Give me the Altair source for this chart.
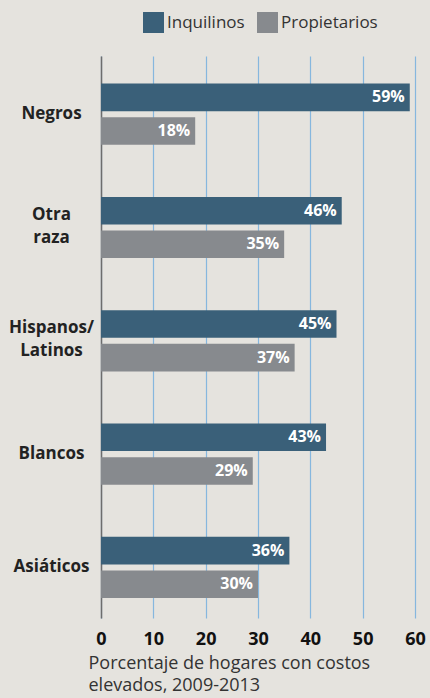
import altair as alt
import pandas as pd

categories = ["Negros", "Otra raza", "Hispanos/Latinos", "Blancos", "Asiáticos"]
series = ["Inquilinos", "Propietarios"]
inquilinos = [59, 46, 45, 43, 36]
propietarios = [18, 35, 37, 29, 30]
x_ticks = [0, 10, 20, 30, 40, 50, 60]

rows = []
for c, a, b in zip(categories, inquilinos, propietarios):
    rows.append({"grupo": c, "serie": series[0], "valor": a})
    rows.append({"grupo": c, "serie": series[1], "valor": b})
df = pd.DataFrame(rows)

FONT = "Open Sans"
BLUE = "#3a6079"
GRAY = "#878a8e"

y_enc = alt.Y(
    "grupo:N",
    sort=categories,
    scale=alt.Scale(paddingInner=0.46, paddingOuter=0.21, align=0.58),
    axis=alt.Axis(
        title=None,
        labelExpr="datum.label == 'Otra raza' ? ['Otra', 'raza'] : datum.label == 'Hispanos/Latinos' ? ['Hispanos/', 'Latinos'] : datum.label",
        labelAlign="center",
        labelBaseline="middle",
        labelOffset={"condition": {"test": "datum.value == 'Otra raza' || datum.value == 'Hispanos/Latinos'", "value": -13}, "value": 0},
        labelPadding=50,
        labelFont=FONT,
        labelFontSize=17,
        labelFontWeight="bold",
        labelColor="#222222",
        labelLineHeight=23,
        ticks=False,
        tickSize=0,
        grid=False,
        domain=True,
        domainColor="#6d6d6d",
        domainWidth=1.5,
    ),
)
yoff = alt.YOffset("serie:N", sort=series, scale=alt.Scale(paddingInner=0.18, paddingOuter=0))

x_enc = alt.X(
    "valor:Q",
    scale=alt.Scale(domain=[0, 60], nice=False),
    axis=alt.Axis(
        values=x_ticks,
        title=["Porcentaje de hogares con costos", "elevados, 2009-2013"],
        titleFont=FONT,
        titleFontSize=18,
        titleFontWeight="normal",
        titleColor="#333333",
        titleAnchor="start",
        titleAlign="left",
        titleBaseline="top",
        titleX=-13,
        titleY=36,
        titleLineHeight=22,
        labelFont=FONT,
        labelFontSize=18,
        labelFontWeight="bold",
        labelColor="#111111",
        labelPadding=12,
        ticks=False,
        tickSize=0,
        domain=False,
        grid=True,
        gridColor="#86b7de",
        gridWidth=1.2,
        labelFlush=False,
    ),
)

bars = alt.Chart(df).mark_bar(cornerRadius=0).encode(
    x=x_enc,
    y=y_enc,
    yOffset=yoff,
    color=alt.Color(
        "serie:N",
        sort=series,
        scale=alt.Scale(domain=series, range=[BLUE, GRAY]),
        legend=alt.Legend(
            title=None,
            orient="none",
            direction="horizontal",
            legendX=42,
            legendY=-44,
            symbolType="square",
            symbolSize=440,
            symbolStrokeWidth=0,
            symbolOpacity=1,
            labelFont=FONT,
            labelFontSize=17,
            labelColor="#333333",
            labelOffset=3,
            columnPadding=12,
        ),
    ),
)

labels = alt.Chart(df).transform_calculate(
    txt="datum.valor + '%'"
).mark_text(
    align="right", baseline="middle", dx=-5, color="white",
    font=FONT, fontSize=16, fontWeight="bold",
).encode(
    x="valor:Q",
    y=alt.Y("grupo:N", sort=categories),
    yOffset=alt.YOffset("serie:N", sort=series),
    text="txt:N",
)

chart = (bars + labels).properties(
    width=314,
    height=562,
    background="#e5e3de",
    padding={"left": 101, "top": 56, "right": 15, "bottom": 80},
    autosize=alt.AutoSizeParams(type="none"),
).configure_view(stroke=None)

chart.save("out.html", embed_options={"renderer": "svg", "actions": False})
